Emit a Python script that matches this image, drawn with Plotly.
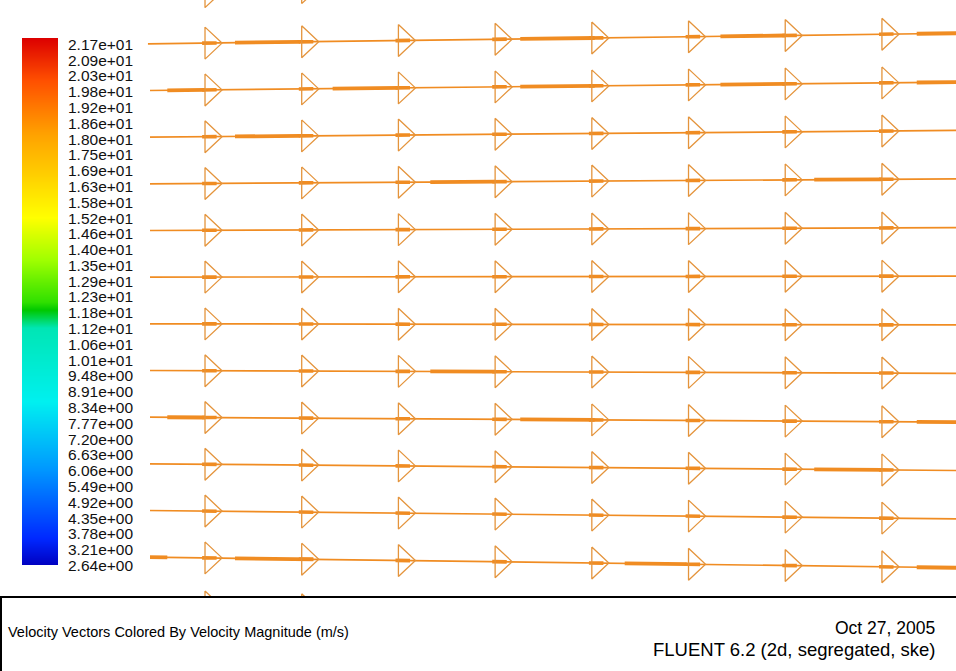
import plotly.graph_objects as go

# ---------------- data ----------------
# Colour legend labels (m/s), bottom -> top, as printed in the reference
LEVEL_LABELS = ["2.64e+00", "3.21e+00", "3.78e+00", "4.35e+00", "4.92e+00", "5.49e+00",
                "6.06e+00", "6.63e+00", "7.20e+00", "7.77e+00", "8.34e+00", "8.91e+00",
                "9.48e+00", "1.01e+01", "1.06e+01", "1.12e+01", "1.18e+01", "1.23e+01",
                "1.29e+01", "1.35e+01", "1.40e+01", "1.46e+01", "1.52e+01", "1.58e+01",
                "1.63e+01", "1.69e+01", "1.75e+01", "1.80e+01", "1.86e+01", "1.92e+01",
                "1.98e+01", "2.03e+01", "2.09e+01", "2.17e+01"]
LEVEL_VALUES = [float(s) for s in LEVEL_LABELS]
V_MIN, V_MAX = 2.64, 21.7

# Vector stations along the flow (x) where arrow heads sit
STATIONS = [0, 1, 2, 3, 4, 5, 6, 7, 8]
# Inlet x where vectors begin
LINE_START = -0.59
# Lane (streamline) heights at first station and at station 7 (slightly diverging)
LANE_Y_IN = [6.6, 5.5, 4.5, 3.5, 2.5, 1.5, 0.5, -0.5, -1.5, -2.5, -3.5, -4.5, -5.5, -6.55]
LANE_Y_OUT = [7.2, 5.69, 4.65, 3.62, 2.59, 1.55, 0.52, -0.52, -1.55, -2.59, -3.62, -4.65, -5.69, -6.95]
# Spans where overlapping vectors render a heavier line (lane index -> list of x spans)
OVERLAP_SPANS = {
    1: [(0.31, 0.98), (3.26, 4.03), (5.33, 6.0), (7.36, 8.0)],
    2: [(-0.39, 0.0), (1.32, 2.0), (3.26, 4.03), (5.33, 6.0), (7.36, 8.0)],
    3: [(0.31, 0.98)],
    4: [(2.33, 3.0), (6.3, 7.0)],
    8: [(2.33, 3.0)],
    9: [(-0.39, 0.0), (3.26, 4.03), (7.36, 8.0)],
    10: [(6.3, 7.0)],
    12: [(-0.59, -0.39), (0.31, 1.12), (4.34, 4.98), (7.36, 8.0)],
}

TITLE = "Velocity Vectors Colored By Velocity Magnitude (m/s)"
DATE = "Oct 27, 2005"
SOLVER = "FLUENT 6.2 (2d, segregated, ske)"

# ---------------- styling ----------------
VEC_COLOR = "rgb(240,140,34)"
HEAD_COLOR = "rgb(228,148,60)"
HEAD_H = 0.342
HEAD_L = 0.176
X_RANGE = [-2.12, 7.766]
Y_RANGE = [-7.917, 6.421]
FONT = "Liberation Sans, Arial, sans-serif"

W, H = 956, 671

COLORSCALE = [
    [0.00, "#0000c0"], [0.05, "#0028ff"], [0.18, "#0096ff"], [0.31, "#00f0f0"],
    [0.45, "#00e6b4"], [0.485, "#00c800"], [0.50, "#30e000"], [0.58, "#a0ff00"],
    [0.66, "#ffff00"], [0.82, "#ffa000"], [0.92, "#ff5000"], [1.00, "#dc0000"],
]


def lane_y(i, x):
    y0, y1 = LANE_Y_IN[i], LANE_Y_OUT[i]
    return y0 + (y1 - y0) * x / 7.0


thin_x, thin_y = [], []
thick_x, thick_y = [], []
core_x, core_y = [], []
head_x, head_y = [], []
for i in range(len(LANE_Y_IN)):
    xe = X_RANGE[1] + 0.5
    thin_x += [LINE_START, xe, None]
    thin_y += [lane_y(i, LINE_START), lane_y(i, xe), None]
    for (a, b) in OVERLAP_SPANS.get(i, []):
        thick_x += [a, b, None]
        thick_y += [lane_y(i, a), lane_y(i, b), None]
    for s in STATIONS:
        yc = lane_y(i, s)
        head_x += [s, s + HEAD_L, s, s, None]
        head_y += [yc + HEAD_H, yc, yc - HEAD_H, yc + HEAD_H, None]
        core_x += [s - 0.03, s + 0.12, None]
        core_y += [lane_y(i, s - 0.03), lane_y(i, s + 0.12), None]

fig = go.Figure()
fig.add_trace(go.Scatter(x=thin_x, y=thin_y, mode="lines",
                         line=dict(color=VEC_COLOR, width=1.7), hoverinfo="skip"))
fig.add_trace(go.Scatter(x=thick_x, y=thick_y, mode="lines",
                         line=dict(color=VEC_COLOR, width=3.8), hoverinfo="skip"))
fig.add_trace(go.Scatter(x=core_x, y=core_y, mode="lines",
                         line=dict(color=VEC_COLOR, width=3.6), hoverinfo="skip"))
fig.add_trace(go.Scatter(x=head_x, y=head_y, mode="lines",
                         line=dict(color=HEAD_COLOR, width=1.3), hoverinfo="skip"))

# colour bar gradient
fig.add_trace(go.Heatmap(x=[0, 1], y=LEVEL_VALUES, z=[[v, v] for v in LEVEL_VALUES],
                         zmin=V_MIN, zmax=V_MAX, colorscale=COLORSCALE, zsmooth="best",
                         showscale=False, hoverinfo="skip", xaxis="x2", yaxis="y2"))
# colour bar labels
fig.add_trace(go.Scatter(x=[0] * len(LEVEL_LABELS), y=list(range(len(LEVEL_LABELS))),
                         text=LEVEL_LABELS, mode="text", textposition="middle right",
                         textfont=dict(family=FONT, size=15.5, color="#111111"),
                         cliponaxis=False, hoverinfo="skip", xaxis="x3", yaxis="y3"))

fig.update_layout(
    width=W, height=H, margin=dict(l=0, r=0, t=0, b=0),
    paper_bgcolor="white", plot_bgcolor="white", showlegend=False, hovermode=False,
    xaxis=dict(range=X_RANGE, domain=[0, 1], visible=False, fixedrange=True),
    yaxis=dict(range=Y_RANGE, domain=[0, 1], visible=False, fixedrange=True),
    xaxis2=dict(range=[0, 1], domain=[22 / W, 58 / W], visible=False, anchor="y2"),
    yaxis2=dict(range=[V_MIN, V_MAX], domain=[1 - 565 / H, 1 - 38 / H], visible=False, anchor="x2"),
    xaxis3=dict(range=[0, 1], domain=[68 / W, 150 / W], visible=False, anchor="y3"),
    yaxis3=dict(range=[0, len(LEVEL_LABELS) - 1], domain=[1 - 567 / H, 1 - 46 / H],
                visible=False, anchor="x3"),
    shapes=[dict(type="rect", xref="paper", yref="paper", x0=1 / W, x1=1.2,
                 y0=-0.2, y1=1 - 597 / H, line=dict(color="black", width=2),
                 fillcolor="white", layer="above")],
    annotations=[
        dict(text=TITLE, xref="paper", yref="paper", x=6 / W, y=1 - 632 / H,
             xanchor="left", yanchor="middle", showarrow=False,
             font=dict(family=FONT, size=14.5, color="black")),
        dict(text=DATE, xref="paper", yref="paper", x=937 / W, y=1 - 628 / H,
             xanchor="right", yanchor="middle", showarrow=False,
             font=dict(family=FONT, size=17.5, color="black")),
        dict(text=SOLVER, xref="paper", yref="paper", x=937 / W, y=1 - 649 / H,
             xanchor="right", yanchor="middle", showarrow=False,
             font=dict(family=FONT, size=18.5, color="black")),
    ],
)

fig.write_html("out.html", config={"displayModeBar": False, "staticPlot": True},
               post_script="document.body.style.margin='0px';"
                           "document.body.style.overflow='hidden';")
